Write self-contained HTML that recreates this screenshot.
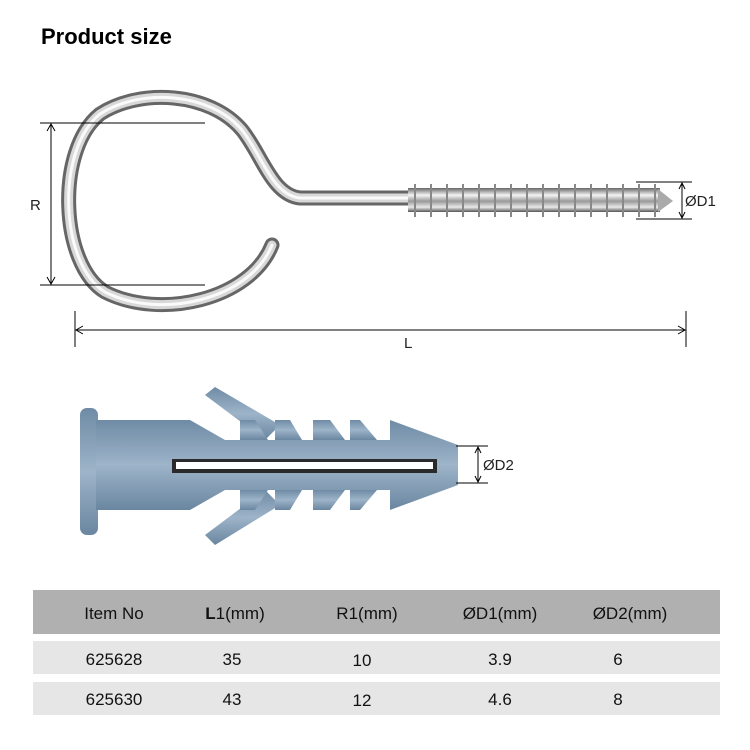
<!DOCTYPE html>
<html><head><meta charset="utf-8"><style>
html,body{margin:0;padding:0;background:#fff;}
svg{display:block;}
text{font-family:"Liberation Sans",Arial,sans-serif;}
</style></head><body>
<svg width="750" height="750" viewBox="0 0 750 750" xmlns="http://www.w3.org/2000/svg">
<defs>
<linearGradient id="met" x1="0" y1="0" x2="0" y2="1">
<stop offset="0" stop-color="#666"/><stop offset="0.3" stop-color="#f4f4f4"/><stop offset="0.55" stop-color="#999"/><stop offset="0.8" stop-color="#e8e8e8"/><stop offset="1" stop-color="#555"/>
</linearGradient>
<linearGradient id="blu" x1="0" y1="0" x2="0" y2="1">
<stop offset="0" stop-color="#6f8ba5"/><stop offset="0.5" stop-color="#9db4c9"/><stop offset="1" stop-color="#6a86a0"/>
</linearGradient>
</defs>
<text x="41" y="44" font-size="22" font-weight="bold" fill="#000">Product size</text>

<!-- eye hook -->
<g fill="none" stroke-linecap="round">
<path id="wire" d="M272 245 C 250 300 160 320 105 292 C 60 265 55 150 100 114 C 140 88 210 92 242 130 C 262 155 272 195 300 198 L 410 198" stroke="#666" stroke-width="15"/>
<path d="M272 245 C 250 300 160 320 105 292 C 60 265 55 150 100 114 C 140 88 210 92 242 130 C 262 155 272 195 300 198 L 410 198" stroke="#d8d8d8" stroke-width="9"/>
<path d="M272 245 C 250 300 160 320 105 292 C 60 265 55 150 100 114 C 140 88 210 92 242 130 C 262 155 272 195 300 198 L 410 198" stroke="#fafafa" stroke-width="3"/>
</g>
<rect x="408" y="188" width="252" height="24" fill="url(#met)"/>
<g stroke="#888" stroke-width="2">
<path d="M415 184 v33 M431 184 v33 M447 184 v33 M463 184 v33 M479 184 v33 M495 184 v33 M511 184 v33 M527 184 v33 M543 184 v33 M559 184 v33 M575 184 v33 M591 184 v33 M607 184 v33 M623 184 v33 M639 184 v33 M655 184 v33"/>
</g>
<polygon points="658,189 673,201 658,212" fill="#aaa"/>

<!-- dims hook -->
<g stroke="#000" stroke-width="1" fill="none">
<line x1="40" y1="123" x2="205" y2="123"/><line x1="40" y1="285" x2="205" y2="285"/>
<line x1="51" y1="125" x2="51" y2="283"/>
<polyline points="47,131 51,124 55,131"/><polyline points="47,277 51,284 55,277"/>
<line x1="75" y1="311" x2="75" y2="347"/><line x1="686" y1="311" x2="686" y2="347"/>
<line x1="76" y1="330" x2="685" y2="330"/>
<polyline points="83,326 76,330 83,334"/><polyline points="678,326 685,330 678,334"/>
<line x1="636" y1="182" x2="692" y2="182"/><line x1="636" y1="219" x2="692" y2="219"/>
<line x1="682" y1="183" x2="682" y2="218"/>
<polyline points="679,189 682,183 685,189"/><polyline points="679,212 682,218 685,212"/>
</g>
<text x="30" y="210" font-size="15" fill="#222">R</text>
<text x="404" y="348" font-size="15" fill="#222">L</text>
<text x="685" y="206" font-size="15" fill="#222">ØD1</text>

<!-- dowel -->
<g fill="url(#blu)">
<path d="M205 395 L 215 387 L 280 425 L 265 440 Z"/>
<path d="M205 535 L 215 545 L 280 505 L 265 490 Z"/>
<rect x="80" y="408" width="18" height="127" rx="7"/>
<polygon points="96,420 190,420 225,440 390,440 390,420 458,445 458,485 390,510 390,490 225,490 190,510 96,510"/>
<polygon points="240,420 255,420 268,440 240,440"/>
<polygon points="275,420 290,420 302,440 275,440"/>
<polygon points="313,420 330,420 345,440 313,440"/>
<polygon points="350,420 360,420 377,440 350,440"/>
<polygon points="240,490 268,490 255,510 240,510"/>
<polygon points="275,490 302,490 290,510 275,510"/>
<polygon points="313,490 345,490 330,510 313,510"/>
<polygon points="350,490 377,490 360,510 350,510"/>
</g>
<rect x="172" y="459" width="265" height="14" fill="#2a2a2a"/>
<rect x="176" y="462" width="257" height="7" fill="#fff"/>
<g stroke="#000" stroke-width="1" fill="none">
<line x1="456" y1="446" x2="488" y2="446"/><line x1="456" y1="483" x2="488" y2="483"/>
<line x1="478" y1="447" x2="478" y2="482"/>
<polyline points="475,453 478,447 481,453"/><polyline points="475,476 478,482 481,476"/>
</g>
<text x="483" y="470" font-size="15" fill="#222">ØD2</text>

<!-- table -->
<rect x="33" y="590" width="687" height="44" fill="#b0b0b0"/>
<rect x="33" y="641" width="687" height="33" fill="#e6e6e6"/>
<rect x="33" y="682" width="687" height="33" fill="#e6e6e6"/>
<g font-size="17" fill="#111" text-anchor="middle">
<text x="114" y="619">Item No</text>
<text x="235" y="619"><tspan font-weight="bold">L</tspan>1(mm)</text>
<text x="367" y="619">R1(mm)</text>
<text x="500" y="619">ØD1(mm)</text>
<text x="630" y="619">ØD2(mm)</text>
<text x="114" y="665">625628</text><text x="232" y="665">35</text><text x="362" y="666">10</text><text x="500" y="665">3.9</text><text x="618" y="665">6</text>
<text x="114" y="705">625630</text><text x="232" y="705">43</text><text x="362" y="706">12</text><text x="500" y="705">4.6</text><text x="618" y="705">8</text>
</g>
</svg>
</body></html>
